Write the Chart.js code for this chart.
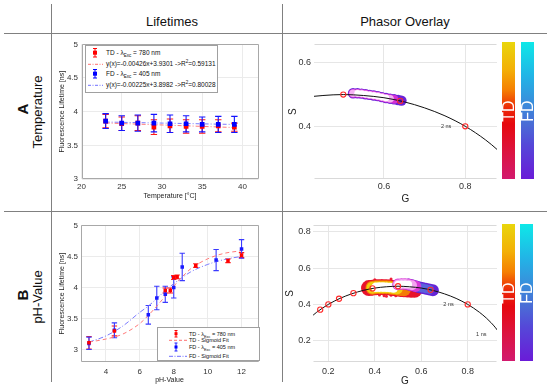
<!DOCTYPE html>
<html>
<head>
<meta charset="utf-8">
<title>Lifetimes and phasor overlay</title>
<script src="https://cdn.jsdelivr.net/npm/chart.js@4"></script>
<style>
  body { margin: 0; background: #fff; font-family: "Liberation Sans", Arial, sans-serif; color: #111; }
  #page { position: relative; width: 550px; height: 386px; overflow: hidden; }
  #page canvas { position: absolute; }
  .ln { position: absolute; background: #808080; }
  .txt { position: absolute; white-space: nowrap; transform: translate(-50%, -50%); }
  .rot { position: absolute; white-space: nowrap; transform: translate(-50%, -50%) rotate(-90deg); }
  .bar { position: absolute; }
  .bar span { position: absolute; left: 50%; top: 50%; transform: translate(-50%, -50%) rotate(-90deg); color: #fff; font-size: 16px; }
  .legend { position: absolute; background: #fff; border: 1px solid #a0a0a0; }
  .legend svg { position: absolute; left: 0; top: 0; }
  .legend div { position: absolute; white-space: nowrap; line-height: 8px; color: #111; }
  sub, sup { line-height: 0; font-size: 70%; }
  .td { background: linear-gradient(#e9d60c 0%, #f3b007 20%, #f57f02 35%, #ec2a08 48%, #e6090f 60%, #dc1440 80%, #d21a6e 100%); }
  .fd { background: linear-gradient(#0ee8e8 0%, #22b4e6 25%, #3a8cdb 45%, #4a6cd6 60%, #5548d8 75%, #6a1bd8 100%); }
</style>
</head>
<body>
<div id="page">
  <div class="ln" style="left:4px;top:33px;width:543px;height:1px"></div>
  <div class="ln" style="left:4px;top:211px;width:543px;height:1px"></div>
  <div class="ln" style="left:51px;top:4px;width:1px;height:378px"></div>
  <div class="ln" style="left:282px;top:4px;width:1px;height:378px"></div>

  <div class="txt" style="left:172px;top:21px;font-size:13px">Lifetimes</div>
  <div class="txt" style="left:405px;top:21px;font-size:13px">Phasor Overlay</div>
  <div class="rot" style="left:21.5px;top:109px;font-size:15px;font-weight:bold">A</div>
  <div class="rot" style="left:36.5px;top:112px;font-size:13px">Temperature</div>
  <div class="rot" style="left:21.5px;top:295px;font-size:15px;font-weight:bold">B</div>
  <div class="rot" style="left:36.5px;top:297px;font-size:13px">pH-Value</div>

  <canvas id="lifeTemp" width="212" height="172" style="left:54px;top:36px"></canvas>
  <canvas id="lifePh" width="212" height="168" style="left:54px;top:218px"></canvas>
  <canvas id="phasorTemp" width="266" height="175" style="left:284px;top:36px"></canvas>
  <canvas id="phasorPh" width="266" height="176" style="left:284px;top:214px"></canvas>

  <div class="bar td" style="left:502px;top:42px;width:13px;height:137px"><span>TD</span></div>
  <div class="bar fd" style="left:521px;top:42px;width:13px;height:137px"><span>FD</span></div>
  <div class="bar td" style="left:502px;top:224px;width:13px;height:137px"><span>TD</span></div>
  <div class="bar fd" style="left:520px;top:224px;width:13px;height:137px"><span>FD</span></div>

  <div class="legend" style="left:85px;top:45px;width:131px;height:46px;font-size:6.5px">
    <svg width="131" height="46">
      <g stroke="#f00" stroke-width="1">
        <line x1="9" y1="2.5" x2="9" y2="11"/><line x1="7" y1="2.5" x2="11" y2="2.5"/><line x1="7" y1="11" x2="11" y2="11"/>
      </g>
      <rect x="7" y="4.7" width="4" height="4" fill="#f00"/>
      <line x1="2" y1="18.3" x2="17" y2="18.3" stroke="#ff7070" stroke-dasharray="3,1.5,1,1.5"/>
      <g stroke="#00f" stroke-width="1">
        <line x1="9" y1="23.5" x2="9" y2="32"/><line x1="7" y1="23.5" x2="11" y2="23.5"/><line x1="7" y1="32" x2="11" y2="32"/>
      </g>
      <rect x="7" y="25.7" width="4" height="4" fill="#00f"/>
      <line x1="2" y1="39.3" x2="17" y2="39.3" stroke="#7070ff" stroke-dasharray="3,1.5,1,1.5"/>
    </svg>
    <div style="left:20px;top:2.7px">TD - λ<sub>Exc</sub> = 780 nm</div>
    <div style="left:20px;top:14.3px">y(x)=-0.00426x+3.9301 -&gt;R<sup>2</sup>=0.59131</div>
    <div style="left:20px;top:23.7px">FD - λ<sub>Exc</sub> = 405 nm</div>
    <div style="left:20px;top:35.3px">y(x)=-0.00225x+3.8982 -&gt;R<sup>2</sup>=0.80028</div>
  </div>

  <div class="legend" style="left:157px;top:327px;width:101px;height:32px;font-size:5.5px">
    <svg width="101" height="32">
      <g stroke="#f00" stroke-width="1">
        <line x1="18" y1="2.5" x2="18" y2="9"/><line x1="16.5" y1="2.5" x2="19.5" y2="2.5"/><line x1="16.5" y1="9" x2="19.5" y2="9"/>
      </g>
      <rect x="16.5" y="4.2" width="3" height="3" fill="#f00"/>
      <line x1="11" y1="12.3" x2="29" y2="12.3" stroke="#ff7070" stroke-dasharray="3,2"/>
      <g stroke="#2020ff" stroke-width="1">
        <line x1="18" y1="15" x2="18" y2="23"/><line x1="16.5" y1="15" x2="19.5" y2="15"/><line x1="16.5" y1="23" x2="19.5" y2="23"/>
      </g>
      <rect x="16.5" y="17.5" width="3" height="3" fill="#00f"/>
      <line x1="11" y1="28.3" x2="29" y2="28.3" stroke="#7070ff" stroke-dasharray="4,1.5,1,1.5"/>
    </svg>
    <div style="left:31px;top:1.7px">TD - λ<sub>Exc</sub> = 780 nm</div>
    <div style="left:31px;top:8.3px">TD - Sigmoid Fit</div>
    <div style="left:31px;top:15px">FD - λ<sub>Exc</sub> = 405 nm</div>
    <div style="left:31px;top:24.3px">FD - Sigmoid Fit</div>
  </div>
</div>

<script>
var FONT = '"Liberation Sans", Arial, sans-serif';

// ---- A: lifetime vs temperature
var tempX = [23, 25, 27, 29, 31, 33, 35, 37, 39];
var tdTempY = [3.86, 3.82, 3.83, 3.77, 3.79, 3.78, 3.78, 3.79, 3.77];
var tdTempErr = [0.10, 0.10, 0.11, 0.11, 0.10, 0.10, 0.10, 0.09, 0.06];
var fdTempY = [3.86, 3.83, 3.83, 3.83, 3.82, 3.82, 3.81, 3.81, 3.81];
var fdTempErr = [0.11, 0.11, 0.12, 0.13, 0.13, 0.12, 0.11, 0.12, 0.12];
var tempFitX = [23, 39];
var tdTempFitY = [3.832, 3.764];
var fdTempFitY = [3.846, 3.810];
var tempTicks = [20, 25, 30, 35, 40];
var tempLifeTicks = [3, 3.5, 4, 4.5, 5];

// ---- B: lifetime vs pH
var tdPhX = [3, 4.5, 7.5, 7.8, 8.0, 8.2, 9.3, 11.2, 12];
var tdPhY = [3.11, 3.30, 3.95, 3.95, 4.16, 4.17, 4.35, 4.43, 4.52];
var tdPhErr = [0.10, 0.08, 0.04, 0.04, 0.03, 0.03, 0.03, 0.03, 0.04];
var fdPhX = [3, 4.5, 6.5, 7.0, 7.5, 8.0, 8.5, 10.5, 12];
var fdPhY = [3.10, 3.31, 3.56, 3.83, 3.89, 4.00, 4.33, 4.44, 4.62];
var fdPhErr = [0.10, 0.12, 0.15, 0.19, 0.13, 0.17, 0.22, 0.17, 0.15];
var fitPhX = [3, 4, 5, 6, 6.5, 7, 7.5, 8, 8.5, 9, 10, 11, 12];
var tdFitPhY = [3.12, 3.17, 3.25, 3.42, 3.55, 3.70, 3.86, 4.02, 4.17, 4.30, 4.46, 4.55, 4.59];
var fdFitPhY = [3.12, 3.22, 3.38, 3.60, 3.70, 3.82, 3.95, 4.06, 4.16, 4.25, 4.37, 4.45, 4.50];
var phTicks = [4, 6, 8, 10, 12];
var phLifeTicks = [3, 3.5, 4, 4.5, 5];

// ---- phasor plots
var circleG = [0.12, 0.15, 0.2, 0.25, 0.3, 0.35, 0.4, 0.45, 0.5, 0.55, 0.6, 0.65, 0.7, 0.75, 0.8, 0.85, 0.88, 0.9, 0.92, 0.94];
var circleS = [0.325, 0.357, 0.4, 0.433, 0.458, 0.477, 0.49, 0.497, 0.5, 0.497, 0.49, 0.477, 0.458, 0.433, 0.4, 0.357, 0.325, 0.3, 0.271, 0.237];
var refTempG = [0.5, 0.64, 0.8];
var refTempS = [0.5, 0.48, 0.4];
var refPhG = [0.165, 0.2, 0.246, 0.308, 0.39, 0.5, 0.64, 0.8];
var refPhS = [0.371, 0.4, 0.431, 0.462, 0.488, 0.5, 0.48, 0.4];
var nsTempG = [0.8], nsTempS = [0.4], nsTempText = ['2 ns'];
var nsPhG = [0.8, 0.941], nsPhS = [0.4, 0.235], nsPhText = ['2 ns', '1 ns'];
var gTempTicks = [0.6, 0.8], sTempTicks = [0.4, 0.6];
var gPhTicks = [0.2, 0.4, 0.6, 0.8], sPhTicks = [0.2, 0.4, 0.6, 0.8];

// point cloud, temperature phasor
var cloudTempG = [0.524, 0.535, 0.545, 0.555, 0.565, 0.575, 0.585, 0.595, 0.605, 0.615, 0.625, 0.635, 0.643];
var cloudTempS = [0.504, 0.504, 0.503, 0.501, 0.499, 0.497, 0.495, 0.492, 0.489, 0.487, 0.485, 0.483, 0.481];
// point clouds, pH phasor
var cloudTdG = [0.375, 0.39, 0.405, 0.42, 0.435, 0.45, 0.465, 0.48, 0.495, 0.51, 0.525, 0.54, 0.555, 0.57];
var cloudTdS = [0.49, 0.492, 0.494, 0.495, 0.495, 0.494, 0.493, 0.49, 0.488, 0.485, 0.483, 0.482, 0.481, 0.48];
var speckG = [0.36, 0.42, 0.44, 0.47, 0.5, 0.52, 0.55, 0.58, 0.6, 0.4, 0.47, 0.58, 0.35, 0.45, 0.49, 0.53, 0.43, 0.57];
var speckS = [0.47, 0.452, 0.448, 0.45, 0.455, 0.45, 0.455, 0.46, 0.47, 0.535, 0.54, 0.52, 0.5, 0.445, 0.447, 0.458, 0.53, 0.45];
var cloudFdG = [0.5, 0.515, 0.53, 0.545, 0.56, 0.575, 0.59, 0.605, 0.62, 0.635, 0.65];
var cloudFdS = [0.51, 0.512, 0.512, 0.51, 0.505, 0.5, 0.495, 0.49, 0.486, 0.482, 0.478];

function pts(xs, ys) {
    return xs.map(function (x, i) { return {x: x, y: ys[i]}; });
}

function fixedTicks(values) {
    return function (scale) {
        scale.ticks = values.map(function (v) { return {value: v}; });
    };
}

function axis(min, max, ticks, title, s) {
    return {
        type: 'linear', min: min, max: max,
        afterBuildTicks: fixedTicks(ticks),
        afterFit: function (sc) {
            if (s.vertical) sc.width = s.size; else sc.height = s.size;
        },
        grid: {color: s.grid, drawTicks: false, lineWidth: 1},
        border: {display: false},
        ticks: {
            padding: s.tickPad, color: '#333', maxRotation: 0, autoSkip: false,
            font: {family: FONT, size: s.tickSize},
            callback: function (v) { return s.digits ? v.toFixed(s.digits) : String(v); }
        },
        title: {
            display: true, text: title, color: '#222',
            font: {family: FONT, size: s.titleSize},
            padding: {top: s.titlePad, bottom: s.titlePad}
        }
    };
}

var errorBarPlugin = {
    id: 'errorBars',
    beforeDatasetsDraw: function (chart) {
        var ctx = chart.ctx, xs = chart.scales.x, ys = chart.scales.y;
        chart.data.datasets.forEach(function (ds) {
            if (!ds.errors) return;
            ctx.save();
            ctx.strokeStyle = ds.errorColor;
            ctx.lineWidth = 1.1;
            ds.data.forEach(function (p, i) {
                var px = xs.getPixelForValue(p.x);
                var top = ys.getPixelForValue(p.y + ds.errors[i]);
                var bot = ys.getPixelForValue(p.y - ds.errors[i]);
                ctx.beginPath();
                ctx.moveTo(px, top); ctx.lineTo(px, bot);
                ctx.moveTo(px - ds.capHalf, top); ctx.lineTo(px + ds.capHalf, top);
                ctx.moveTo(px - ds.capHalf, bot); ctx.lineTo(px + ds.capHalf, bot);
                ctx.stroke();
            });
            ctx.restore();
        });
    }
};

var framePlugin = {
    id: 'frame',
    beforeDatasetsDraw: function (chart, args, opts) {
        var a = chart.chartArea, ctx = chart.ctx;
        var l = Math.round(a.left) + 0.5, r = Math.round(a.right) - 0.5;
        var t = Math.round(a.top) + 0.5, b = Math.round(a.bottom) - 0.5;
        ctx.save();
        ctx.strokeStyle = opts.color;
        ctx.lineWidth = 1;
        ctx.beginPath();
        if (opts.box) {
            ctx.rect(l, t, r - l, b - t);
        } else {
            ctx.moveTo(l, t); ctx.lineTo(r, t);
            ctx.moveTo(l, b); ctx.lineTo(r, b);
        }
        ctx.stroke();
        ctx.restore();
    }
};

var nsLabelPlugin = {
    id: 'nsLabels',
    afterDatasetsDraw: function (chart, args, opts) {
        if (!opts.text) return;
        var ctx = chart.ctx;
        ctx.save();
        ctx.font = '5.5px ' + FONT;
        ctx.fillStyle = '#333';
        ctx.textAlign = 'right';
        ctx.textBaseline = 'middle';
        opts.text.forEach(function (t, i) {
            var px = chart.scales.x.getPixelForValue(opts.g[i]);
            var py = chart.scales.y.getPixelForValue(opts.s[i]);
            ctx.fillText(t, px - 14, py);
        });
        ctx.restore();
    }
};

function baseOptions(padTop, padRight, xs, ys, plugins) {
    plugins.legend = {display: false};
    plugins.tooltip = {enabled: false};
    return {
        responsive: false,
        animation: false,
        events: [],
        layout: {padding: {top: padTop, right: padRight, left: 0, bottom: 0}},
        plugins: plugins,
        scales: {x: xs, y: ys}
    };
}

function marks(data, color, errColor, errs, r, cap, order) {
    return {
        data: data, showLine: false, order: order,
        pointStyle: 'rect', pointRadius: r, pointBackgroundColor: color,
        pointBorderColor: color, pointBorderWidth: 0,
        errors: errs, errorColor: errColor, capHalf: cap
    };
}

function fitLine(data, color, dash, order) {
    return {
        data: data, showLine: true, pointRadius: 0, order: order,
        borderColor: color, borderWidth: 1, borderDash: dash,
        cubicInterpolationMode: 'monotone'
    };
}

function spots(g, s, color, r, order) {
    return {
        data: pts(g, s), showLine: false, order: order,
        pointStyle: 'circle', pointRadius: r, pointBorderWidth: 0,
        pointBackgroundColor: color
    };
}

function refCircles(g, s) {
    return {
        data: pts(g, s), showLine: false, order: 0,
        pointStyle: 'circle', pointRadius: 2.6, pointBorderWidth: 1.1,
        pointBorderColor: '#ff2a2a', pointBackgroundColor: 'rgba(0,0,0,0)'
    };
}

function semicircle() {
    return {
        data: pts(circleG, circleS), showLine: true, pointRadius: 0, order: 1,
        borderColor: '#111', borderWidth: 1, cubicInterpolationMode: 'monotone'
    };
}

var lifeGrid = '#ebebeb';
var phGrid = '#e6e6e6';

new Chart('lifeTemp', {
    type: 'scatter',
    data: {datasets: [
        fitLine(pts(tempFitX, tdTempFitY), '#ff7a7a', [4, 2, 1, 2], 3),
        fitLine(pts(tempFitX, fdTempFitY), '#7a7aff', [4, 2, 1, 2], 3),
        marks(pts(tempX, tdTempY), '#ff0000', '#ff1a1a', tdTempErr, 3.3, 3.2, 2),
        marks(pts(tempX, fdTempY), '#0000ff', '#1414ff', fdTempErr, 3.3, 3.2, 1)
    ]},
    options: baseOptions(5.7, 7.5,
        axis(20, 42, tempTicks, 'Temperature [°C]', {size: 29, grid: lifeGrid, tickPad: 2.9, tickSize: 8, titleSize: 7, titlePad: 8.1}),
        axis(3, 5, tempLifeTicks, 'Fluorescence Lifetime [ns]', {vertical: true, size: 27.5, grid: lifeGrid, tickPad: 3.5, tickSize: 8, titleSize: 7, titlePad: 4.1}),
        {frame: {color: '#a8a8a8', box: true}}),
    plugins: [framePlugin, errorBarPlugin]
});

new Chart('lifePh', {
    type: 'scatter',
    data: {datasets: [
        fitLine(pts(fitPhX, tdFitPhY), '#ff7a7a', [4, 3], 3),
        fitLine(pts(fitPhX, fdFitPhY), '#7a7aff', [5, 2, 1, 2], 3),
        marks(pts(tdPhX, tdPhY), '#ff0000', '#ff1a1a', tdPhErr, 2.5, 2.7, 1),
        marks(pts(fdPhX, fdPhY), '#1a1aff', '#3a3aff', fdPhErr, 2.5, 2.7, 2)
    ]},
    options: baseOptions(5.5, 7.5,
        axis(2.5, 13, phTicks, 'pH-Value', {size: 24, grid: lifeGrid, tickPad: 4.9, tickSize: 8, titleSize: 7, titlePad: 1.8}),
        axis(2.8, 5, phLifeTicks, 'Fluorescence Lifetime [ns]', {vertical: true, size: 26.5, grid: lifeGrid, tickPad: 2.5, tickSize: 8, titleSize: 7, titlePad: 3.8}),
        {frame: {color: '#a8a8a8', box: true}}),
    plugins: [framePlugin, errorBarPlugin]
});

new Chart('phasorTemp', {
    type: 'scatter',
    data: {datasets: [
        spots(cloudTempG, cloudTempS, '#6a22d8', 5.2, 9),
        spots(cloudTempG.slice(0, 11), cloudTempS.slice(0, 11), '#d42fd4', 4.4, 8),
        spots(cloudTempG.slice(0, 10), cloudTempS.slice(0, 10), '#f5b0f3', 3.8, 7),
        spots(cloudTempG.slice(1, 9), cloudTempS.slice(1, 9), '#ffffff', 3.2, 6),
        semicircle(),
        refCircles(refTempG, refTempS)
    ]},
    options: baseOptions(6, 53,
        axis(0.428, 0.878, gTempTicks, 'G', {size: 32, grid: phGrid, tickPad: 2.3, tickSize: 9, titleSize: 10, titlePad: 6, digits: 1}),
        axis(0.234, 0.658, sTempTicks, 'S', {vertical: true, size: 30, grid: phGrid, tickPad: 3, tickSize: 9, titleSize: 10, titlePad: 3.3, digits: 1}),
        {frame: {color: '#d9d9d9', box: false}, nsLabels: {g: nsTempG, s: nsTempS, text: nsTempText}}),
    plugins: [framePlugin, nsLabelPlugin]
});

new Chart('phasorPh', {
    type: 'scatter',
    data: {datasets: [
        spots(speckG, speckS, '#f0203a', 1.5, 20),
        spots(cloudTdG, cloudTdS, '#e8132b', 8, 19),
        spots(cloudTdG.slice(1, 11), cloudTdS.slice(1, 11), '#f47a06', 7, 18),
        spots(cloudTdG.slice(1, 9), cloudTdS.slice(1, 9), '#f2cc10', 6, 17),
        spots(cloudTdG.slice(2, 8), cloudTdS.slice(2, 8), '#ffffff', 4.8, 16),
        spots(cloudFdG.slice(3), cloudFdS.slice(3), '#6524d6', 6, 15),
        spots(cloudFdG.slice(6, 10), cloudFdS.slice(6, 10), '#5a62dc', 4.5, 14),
        spots(cloudFdG.slice(0, 6), cloudFdS.slice(0, 6), '#d83ad6', 5.8, 13),
        spots(cloudFdG.slice(0, 5), cloudFdS.slice(0, 5), '#f3a6f0', 5, 12),
        spots(cloudFdG.slice(0, 4), cloudFdS.slice(0, 4), '#ffffff', 3.6, 11),
        semicircle(),
        refCircles(refPhG, refPhS)
    ]},
    options: baseOptions(11, 53,
        axis(0.134, 0.926, gPhTicks, 'G', {size: 28, grid: phGrid, tickPad: 4.3, tickSize: 9, titleSize: 10, titlePad: 2.3, digits: 1}),
        axis(0.083, 0.837, sPhTicks, 'S', {vertical: true, size: 29, grid: phGrid, tickPad: 2.3, tickSize: 9, titleSize: 10, titlePad: 0, digits: 1}),
        {frame: {color: '#d9d9d9', box: false}, nsLabels: {g: nsPhG, s: nsPhS, text: nsPhText}}),
    plugins: [framePlugin, nsLabelPlugin]
});
</script>
</body>
</html>
